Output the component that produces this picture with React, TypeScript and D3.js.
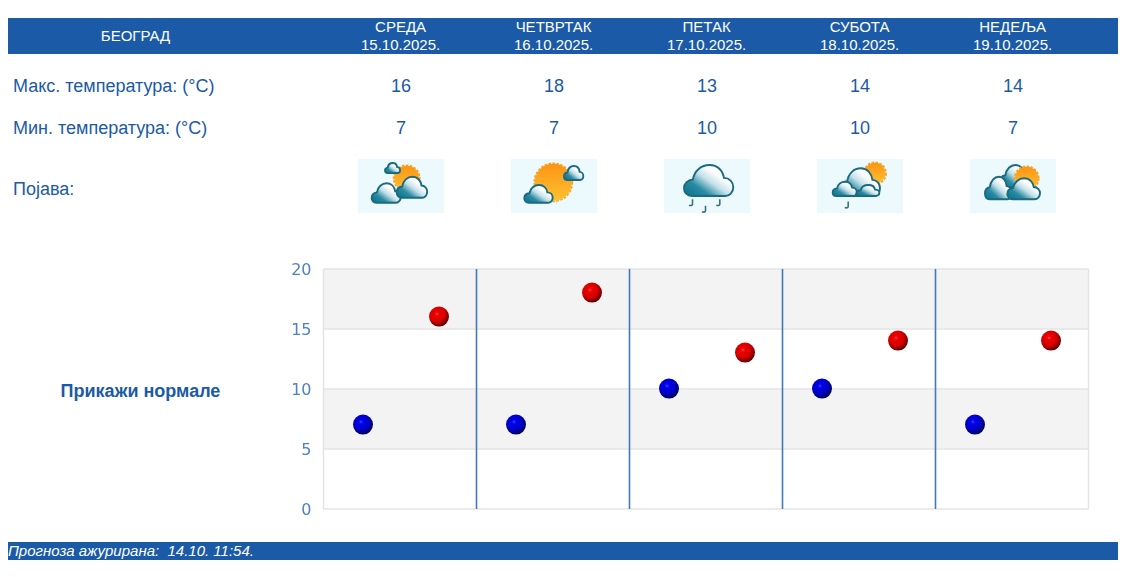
import { useEffect, useRef } from 'react';
import * as d3 from 'd3';

const city = 'БЕОГРАД';
const dayNames = ['СРЕДА', 'ЧЕТВРТАК', 'ПЕТАК', 'СУБОТА', 'НЕДЕЉА'];
const dates = ['15.10.2025.', '16.10.2025.', '17.10.2025.', '18.10.2025.', '19.10.2025.'];
const maxTemps = [16, 18, 13, 14, 14];
const minTemps = [7, 7, 10, 10, 7];
const yTicks = [0, 5, 10, 15, 20];
const updated = 'Прогноза ажурирана:  14.10. 11:54.';

const BLUE = '#1b5aa6';
const FONT = '"Liberation Sans", Arial, sans-serif';
const width = 1143;
const height = 577;

const x = d3.scaleLinear().domain([0, 5]).range([323.5, 1088.5]);
const y = d3.scaleLinear().domain([0, 20]).range([509, 269]);
const dayCenter = (i: number) => x(i + 0.5) + 1;
const pointOffset = 38;

function Cloud({ x0, y0, w, h }: { x0: number; y0: number; w: number; h: number }) {
  return (
    <path
      transform={`translate(${x0},${y0}) scale(${w / 100},${h / 60})`}
      d="M16 60C6 60 0 53 0 45C0 35 8 29 18 28C21 11 35 0 52 0C68 0 79 11 81 25C92 25 100 33 100 43C100 53 92 60 84 60Z"
      fill="url(#cloudFill)"
      stroke="#1b6a80"
      strokeWidth={1.9}
      vectorEffect="non-scaling-stroke"
    />
  );
}

function Sun({ cx, cy, r }: { cx: number; cy: number; r: number }) {
  return (
    <g>
      <circle cx={cx} cy={cy} r={r} fill="none" stroke="#f9a425" strokeWidth={1.8} strokeDasharray="2.6 1.4" />
      <circle cx={cx} cy={cy} r={r - 0.4} fill="url(#sunFill)" />
    </g>
  );
}

function Drop({ px, py }: { px: number; py: number }) {
  return (
    <path
      transform={`translate(${px},${py})`}
      d="M1.5 -3.5L1.5 1.5Q1 3.5 -2 2.5"
      fill="none"
      stroke="#3d6f7d"
      strokeWidth={1.6}
    />
  );
}

// sky pictures, one per day, laid out on the 86x54 tile
const icons = [
  <g>
    <Sun cx={48.7} cy={19.3} r={13} />
    <Cloud x0={27} y0={4} w={15} h={10} />
    <Cloud x0={13.7} y0={24.3} w={29} h={19.4} />
    <Cloud x0={38.7} y0={17.7} w={30.5} h={21} />
  </g>,
  <g>
    <Sun cx={42.3} cy={23.3} r={19} />
    <Cloud x0={53} y0={7} w={19.3} h={14} />
    <Cloud x0={13.3} y0={26} w={28.4} h={17.7} />
  </g>,
  <g>
    <Cloud x0={20} y0={6} w={49.3} h={31} />
    <Drop px={27} py={43.7} />
    <Drop px={40} py={50.3} />
    <Drop px={54.3} py={43.7} />
  </g>,
  <g>
    <Sun cx={58} cy={14.3} r={11} />
    <Cloud x0={23} y0={9.3} w={40} h={27.7} />
    <Cloud x0={15.7} y0={22.7} w={24} h={14.3} />
    <Cloud x0={39.7} y0={26} w={22.6} h={11} />
    <Drop px={29.7} py={46} />
  </g>,
  <g>
    <Cloud x0={30} y0={6} w={30} h={22} />
    <Sun cx={56.7} cy={19.3} r={12} />
    <Cloud x0={15} y0={17.7} w={26.7} h={22.6} />
    <Cloud x0={37.3} y0={19.3} w={32.7} h={21} />
  </g>,
];

export default function App() {
  const axisRef = useRef<SVGGElement | null>(null);

  useEffect(() => {
    if (!axisRef.current) return;
    const g = d3.select(axisRef.current);
    g.call(d3.axisLeft(y).tickValues(yTicks).tickSize(0).tickPadding(12) as any);
    g.select('.domain').remove();
    g.selectAll('text')
      .attr('font-family', '"DejaVu Sans", sans-serif')
      .attr('font-size', 16)
      .attr('fill', '#4f82c2');
  }, []);

  return (
    <svg
      width={width}
      height={height}
      style={{ position: 'absolute', left: 0, top: 0, background: '#fff' }}
      fontFamily={FONT}
    >
      <defs>
        <linearGradient id="cloudFill" x1="0" y1="1" x2="1" y2="0.1">
          <stop offset="0" stopColor="#06708a" />
          <stop offset="0.3" stopColor="#2a8ba3" />
          <stop offset="0.52" stopColor="#c4e0e8" />
          <stop offset="0.72" stopColor="#ffffff" />
        </linearGradient>
        <linearGradient id="sunFill" x1="0" y1="0" x2="0" y2="1">
          <stop offset="0" stopColor="#fb9415" />
          <stop offset="1" stopColor="#fec232" />
        </linearGradient>
        <radialGradient id="redBall" cx="0.4" cy="0.36" r="0.66">
          <stop offset="0" stopColor="#f86060" />
          <stop offset="0.1" stopColor="#ee0808" />
          <stop offset="0.55" stopColor="#d80000" />
          <stop offset="0.85" stopColor="#8a0000" />
          <stop offset="1" stopColor="#4c0000" />
        </radialGradient>
        <radialGradient id="blueBall" cx="0.4" cy="0.36" r="0.66">
          <stop offset="0" stopColor="#6060f8" />
          <stop offset="0.1" stopColor="#0808ee" />
          <stop offset="0.55" stopColor="#0000cc" />
          <stop offset="0.85" stopColor="#000080" />
          <stop offset="1" stopColor="#00004c" />
        </radialGradient>
        <filter id="soft" x="-5%" y="-5%" width="110%" height="110%">
          <feGaussianBlur stdDeviation="0.45" />
        </filter>
        <filter id="softPlot" filterUnits="userSpaceOnUse" x="280" y="255" width="820" height="270">
          <feGaussianBlur stdDeviation="0.3" />
        </filter>
      </defs>

      <rect x={8} y={18} width={1110} height={36} fill={BLUE} />
      <text x={135.5} y={41} textAnchor="middle" fontSize={15} fill="#fff">{city}</text>
      {dayNames.map((d, i) => (
        <g key={d} textAnchor="middle" fontSize={15} fill="#fff">
          <text x={dayCenter(i) - 0.4} y={32}>{d}</text>
          <text x={dayCenter(i) - 0.4} y={50}>{dates[i]}</text>
        </g>
      ))}

      <g fontSize={18} fill={BLUE}>
        <text x={13} y={92}>Макс. температура: (°C)</text>
        <text x={13} y={134}>Мин. температура: (°C)</text>
        <text x={13} y={195}>Појава:</text>
        {maxTemps.map((v, i) => (
          <text key={i} x={dayCenter(i)} y={92} textAnchor="middle">{v}</text>
        ))}
        {minTemps.map((v, i) => (
          <text key={i} x={dayCenter(i)} y={134} textAnchor="middle">{v}</text>
        ))}
      </g>

      {icons.map((icon, i) => (
        <g key={i} transform={`translate(${dayCenter(i) - 43},159)`}>
          <rect width={86} height={54} fill="#edfafd" />
          <g filter="url(#soft)">{icon}</g>
        </g>
      ))}

      <text x={140.5} y={397} textAnchor="middle" fontSize={18} fontWeight="bold" fill={BLUE}>
        Прикажи нормале
      </text>

      <g filter="url(#softPlot)">
        {[10, 20].map(t => (
          <rect
            key={t}
            x={x(0)}
            y={y(t)}
            width={x(5) - x(0)}
            height={y(t - 5) - y(t)}
            fill="#f3f3f3"
          />
        ))}
        {yTicks.map(t => (
          <line key={t} x1={x(0)} x2={x(5)} y1={y(t)} y2={y(t)} stroke="#e4e4e4" strokeWidth={1.5} />
        ))}
        <line x1={x(0)} x2={x(0)} y1={y(20)} y2={y(0)} stroke="#e4e4e4" strokeWidth={1.5} />
        <line x1={x(5)} x2={x(5)} y1={y(20)} y2={y(0)} stroke="#e4e4e4" strokeWidth={1.5} />
        {d3.range(1, 5).map(i => (
          <line key={i} x1={x(i)} x2={x(i)} y1={y(20)} y2={y(0)} stroke="#4079bd" strokeWidth={1.6} />
        ))}
        <g ref={axisRef} transform={`translate(${x(0)},0)`} />
        {minTemps.map((v, i) => (
          <circle key={i} cx={dayCenter(i) - pointOffset} cy={y(v) - 0.4} r={10} fill="url(#blueBall)" />
        ))}
        {maxTemps.map((v, i) => (
          <circle key={i} cx={dayCenter(i) + pointOffset} cy={y(v) - 0.4} r={10} fill="url(#redBall)" />
        ))}
      </g>

      <rect x={8} y={542} width={1110} height={18} fill={BLUE} />
      <text x={8} y={556} fontSize={15} fontStyle="italic" fill="#fff" style={{ whiteSpace: 'pre' }}>
        {updated}
      </text>
    </svg>
  );
}
